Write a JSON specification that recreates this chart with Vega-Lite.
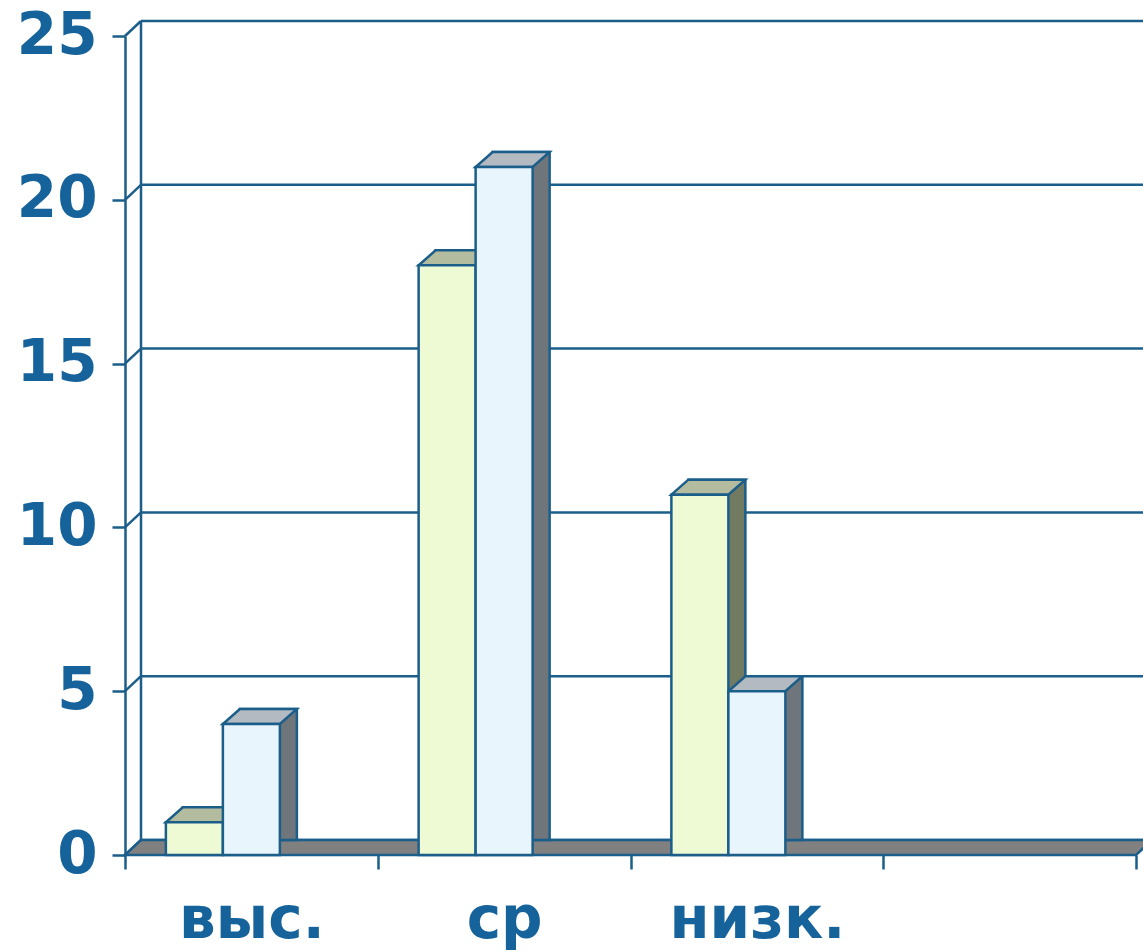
{
  "$schema": "https://vega.github.io/schema/vega-lite/v6.json",
  "width": 1011,
  "height": 819,
  "autosize": {"type": "none"},
  "padding": {"left": 125, "top": 36, "right": 7, "bottom": 97},
  "background": "white",
  "config": {"view": {"stroke": null}},
  "datasets": {
    "bars": [
      {"cat": "выс.", "s": "A", "v": 1},
      {"cat": "выс.", "s": "B", "v": 4},
      {"cat": "ср", "s": "A", "v": 18},
      {"cat": "ср", "s": "B", "v": 21},
      {"cat": "низк.", "s": "A", "v": 11},
      {"cat": "низк.", "s": "B", "v": 5}
    ],
    "ticks": [{"v": 0}, {"v": 5}, {"v": 10}, {"v": 15}, {"v": 20}, {"v": 25}]
  },
  "layer": [
    {
      "data": {"name": "ticks"},
      "mark": {"type": "rule", "color": "#1B5E8A", "strokeWidth": 2.5, "xOffset": 16, "x2Offset": 16, "yOffset": -15},
      "encoding": {
        "x": {
          "datum": "выс.", "type": "nominal", "bandPosition": 0,
          "scale": {"domain": ["выс.", "ср", "низк.", " "], "paddingInner": 0, "paddingOuter": 0},
          "axis": {
            "title": null, "domain": false, "grid": false, "tickBand": "extent",
            "tickSize": 14, "tickWidth": 2.5, "tickColor": "#1B5E8A",
            "labelFont": "DejaVu Sans", "labelFontWeight": "bold", "labelFontSize": 58,
            "labelColor": "#16639C", "labelPadding": 22, "labelAngle": 0
          }
        },
        "x2": {"datum": " ", "bandPosition": 1},
        "y": {
          "field": "v", "type": "quantitative",
          "scale": {"domain": [0, 25], "nice": false, "zero": true},
          "axis": {
            "title": null, "grid": false, "values": [0, 5, 10, 15, 20, 25],
            "domainColor": "#1B5E8A", "domainWidth": 2.5,
            "tickSize": 13, "tickWidth": 2.5, "tickColor": "#1B5E8A",
            "labelFont": "DejaVu Sans", "labelFontWeight": "bold", "labelFontSize": 58,
            "labelColor": "#16639C", "labelPadding": 15
          }
        }
      }
    },
    {
      "data": {"name": "ticks"},
      "mark": {"type": "rule", "color": "#1B5E8A", "strokeWidth": 2.5, "x2Offset": 16, "y2Offset": -15},
      "encoding": {
        "x": {"datum": "выс.", "type": "nominal", "bandPosition": 0},
        "x2": {"datum": "выс.", "bandPosition": 0},
        "y": {"field": "v", "type": "quantitative"},
        "y2": {"field": "v"}
      }
    },
    {
      "data": {"values": [{}]},
      "mark": {"type": "rule", "color": "#1B5E8A", "strokeWidth": 2.5, "xOffset": 16, "yOffset": -15, "y2Offset": -15},
      "encoding": {
        "x": {"datum": "выс.", "type": "nominal", "bandPosition": 0},
        "y": {"datum": 0, "type": "quantitative"},
        "y2": {"datum": 25}
      }
    },
    {
      "data": {"values": [{}]},
      "mark": {
        "type": "point", "filled": true, "opacity": 1, "size": 4,
        "shape": "M-505.5,0 L505.5,0 L521.5,-15 L-489.5,-15 Z",
        "fill": "#808080", "stroke": "#1B5E8A", "strokeWidth": 2.5
      },
      "encoding": {
        "x": {"datum": "низк.", "type": "nominal", "bandPosition": 0},
        "y": {"datum": 0, "type": "quantitative"}
      }
    },
    {
      "data": {"name": "bars"},
      "transform": [{"filter": "datum.s === 'A'"}],
      "mark": {"type": "bar", "width": 57, "xOffset": -40, "yOffset": -15, "y2Offset": -15, "fill": "#737A62", "stroke": "#1B5E8A", "strokeWidth": 2.5},
      "encoding": {
        "x": {"field": "cat", "type": "nominal"},
        "y": {"field": "v", "type": "quantitative"},
        "y2": {"datum": 0}
      }
    },
    {
      "data": {"name": "bars"},
      "transform": [{"filter": "datum.s === 'B'"}],
      "mark": {"type": "bar", "width": 57, "xOffset": 17, "yOffset": -15, "y2Offset": -15, "fill": "#6E767C", "stroke": "#1B5E8A", "strokeWidth": 2.5},
      "encoding": {
        "x": {"field": "cat", "type": "nominal"},
        "y": {"field": "v", "type": "quantitative"},
        "y2": {"datum": 0}
      }
    },
    {
      "data": {"name": "bars"},
      "transform": [{"filter": "datum.s === 'A'"}],
      "mark": {
        "type": "point", "filled": true, "opacity": 1, "size": 4, "xOffset": -57,
        "shape": "M-28.5,0 L28.5,0 L45.5,-15 L-11.5,-15 Z",
        "fill": "#B3BC9F", "stroke": "#1B5E8A", "strokeWidth": 2.5
      },
      "encoding": {
        "x": {"field": "cat", "type": "nominal"},
        "y": {"field": "v", "type": "quantitative"}
      }
    },
    {
      "data": {"name": "bars"},
      "transform": [{"filter": "datum.s === 'B'"}],
      "mark": {
        "type": "point", "filled": true, "opacity": 1, "size": 4, "xOffset": 0,
        "shape": "M-28.5,0 L28.5,0 L45.5,-15 L-11.5,-15 Z",
        "fill": "#B3BAC2", "stroke": "#1B5E8A", "strokeWidth": 2.5
      },
      "encoding": {
        "x": {"field": "cat", "type": "nominal"},
        "y": {"field": "v", "type": "quantitative"}
      }
    },
    {
      "data": {"name": "bars"},
      "transform": [{"filter": "datum.s === 'A'"}],
      "mark": {"type": "bar", "width": 57, "xOffset": -57, "fill": "#EEFAD3", "stroke": "#1B5E8A", "strokeWidth": 2.5},
      "encoding": {
        "x": {"field": "cat", "type": "nominal"},
        "y": {"field": "v", "type": "quantitative"},
        "y2": {"datum": 0}
      }
    },
    {
      "data": {"name": "bars"},
      "transform": [{"filter": "datum.s === 'B'"}],
      "mark": {"type": "bar", "width": 57, "xOffset": 0, "fill": "#E9F5FC", "stroke": "#1B5E8A", "strokeWidth": 2.5},
      "encoding": {
        "x": {"field": "cat", "type": "nominal"},
        "y": {"field": "v", "type": "quantitative"},
        "y2": {"datum": 0}
      }
    }
  ]
}
